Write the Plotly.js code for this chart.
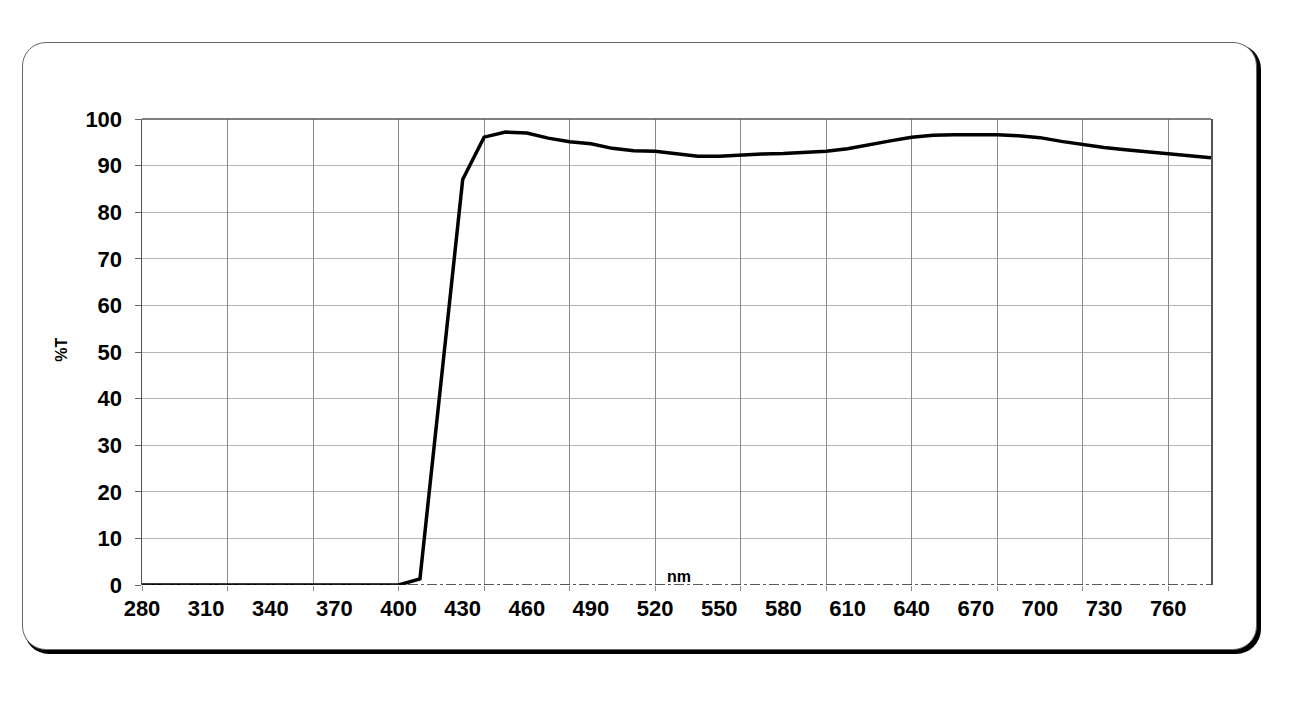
<!DOCTYPE html>
<html>
<head>
<meta charset="utf-8">
<script src="https://cdn.plot.ly/plotly-3.0.1.min.js"></script>
<style>
  html, body { margin: 0; padding: 0; background: #fff; }
  #wrap { position: relative; width: 1313px; height: 706px; }
  #box { position: absolute; left: 22px; top: 42px; width: 1233px; height: 606px;
         border: 1px solid #666; border-radius: 24px; box-shadow: 3px 3px 0 1px #000; background: #fff; }
  #chart { position: absolute; left: 0; top: 0; width: 1313px; height: 706px; }
</style>
</head>
<body>
<div id="wrap">
  <div id="box"></div>
  <div id="chart"></div>
</div>
<script>
const wavelength = [280,290,300,310,320,330,340,350,360,370,380,390,400,410,420,430,440,450,460,470,480,490,500,510,520,530,540,550,560,570,580,590,600,610,620,630,640,650,660,670,680,690,700,710,720,730,740,750,760,770,780];
const transmission = [0,0,0,0,0,0,0,0,0,0,0,0,0,1.3,44,87,96.1,97.2,97.0,95.9,95.1,94.7,93.7,93.2,93.1,92.5,92.0,92.0,92.3,92.5,92.6,92.8,93.1,93.6,94.5,95.3,96.1,96.5,96.6,96.6,96.6,96.4,96.0,95.2,94.5,93.9,93.4,93.0,92.6,92.2,91.7];
const xTickLabels = [280,310,340,370,400,430,460,490,520,550,580,610,640,670,700,730,760];
const yTickLabels = [0,10,20,30,40,50,60,70,80,90,100];

const tickFont = {family: 'Liberation Sans, Arial, sans-serif', size: 22, color: '#000', weight: 'bold'};
const titleFont = {family: 'Liberation Sans, Arial, sans-serif', size: 16, color: '#000', weight: 'bold'};

const data = [{
  x: wavelength, y: transmission, type: 'scatter', mode: 'lines',
  line: {color: '#000', width: 3.5}, hoverinfo: 'skip', showlegend: false
}];
// grid-only axis needs a trace to be drawn
data.push({x: [280, 780], y: [null, null], xaxis: 'x2', yaxis: 'y', type: 'scatter', mode: 'lines', showlegend: false, hoverinfo: 'skip'});

const layout = {
  width: 1313, height: 706,
  margin: {l: 142, r: 102, t: 119, b: 121},
  paper_bgcolor: 'rgba(0,0,0,0)', plot_bgcolor: 'rgba(0,0,0,0)',
  showlegend: false,
  xaxis: {
    range: [280, 780], tickmode: 'array', tickvals: xTickLabels, ticktext: xTickLabels.map(String),
    showgrid: false, zeroline: false, showline: false, ticks: '',
    ticklabelstandoff: 8,
    tickfont: tickFont, fixedrange: true
  },
  xaxis2: {
    overlaying: 'x', anchor: 'y', side: 'bottom',
    range: [280, 780], tickmode: 'linear', tick0: 280, dtick: 40,
    showgrid: true, gridcolor: '#8a8a8a', gridwidth: 1,
    ticks: 'outside', ticklen: 5, tickcolor: '#8a8a8a',
    showticklabels: false, zeroline: false, showline: false
  },
  yaxis: {
    range: [0, 100], tickmode: 'array', tickvals: yTickLabels,
    showgrid: true, gridcolor: '#b4b4b4', gridwidth: 1,
    zeroline: false, showline: true, linecolor: '#555', linewidth: 1.5, mirror: true,
    ticks: 'outside', ticklen: 6, tickcolor: '#666',
    ticklabelstandoff: 8,
    tickfont: tickFont, fixedrange: true
  },
  shapes: [
    {type: 'line', xref: 'paper', yref: 'y', x0: 0, x1: 1, y0: 0, y1: 0,
     line: {color: '#222', width: 1.5, dash: '10px,3px,3px,3px'}, layer: 'above'},
    {type: 'line', xref: 'paper', yref: 'paper', x0: 0, x1: 1, y0: 1, y1: 1,
     line: {color: '#555', width: 1.5}}
  ],
  annotations: [
    {text: '%T', xref: 'paper', yref: 'paper', x: -0.0748, y: 0.505, xanchor: 'center', yanchor: 'middle', textangle: -90,
     showarrow: false, font: titleFont},
    {text: 'nm', xref: 'x', yref: 'y', x: 531, y: 0, yanchor: 'bottom', yshift: -2,
     showarrow: false, font: titleFont}
  ]
};

Plotly.newPlot('chart', data, layout, {displayModeBar: false, staticPlot: true});
</script>
</body>
</html>
